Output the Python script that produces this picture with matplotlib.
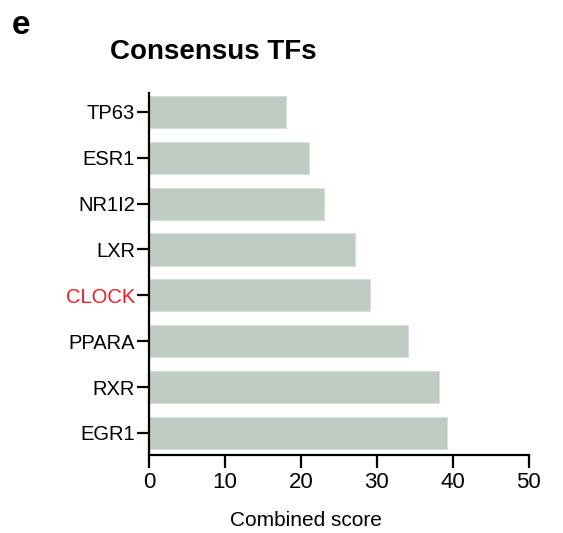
import matplotlib
matplotlib.use("Agg")
import matplotlib.pyplot as plt

categories = ["EGR1", "RXR", "PPARA", "CLOCK", "LXR", "NR1I2", "ESR1", "TP63"]
scores = [39.2, 38.2, 34.1, 29.1, 27.1, 23.1, 21.1, 18.1]
xticks = [0, 10, 20, 30, 40, 50]
highlight = "CLOCK"

plt.rcParams['font.family'] = ['Liberation Sans', 'DejaVu Sans']

W, H = 563, 533
fig = plt.figure(figsize=(W / 100, H / 100), dpi=100)
left, right, top, bottom = 149, 528.6, 93, 455
ax = fig.add_axes([left / W, 1 - bottom / H, (right - left) / W, (bottom - top) / H])

ypos = list(range(len(categories)))
ax.barh(ypos, scores, height=0.7, color="#bfccc4", edgecolor="#d6e0da", linewidth=0.8)
ax.set_xlim(0, 50)
ax.set_ylim(-0.48, len(categories) - 1 + 0.41)
ax.set_yticks(ypos)
ax.set_yticklabels(categories, fontsize=14.5)
ax.set_xticks(xticks)
ax.set_xticklabels([str(t) for t in xticks], fontsize=16)
for lbl in ax.get_yticklabels():
    if lbl.get_text() == highlight:
        lbl.set_color("#e8202a")

for s in ["top", "right"]:
    ax.spines[s].set_visible(False)
for s in ["left", "bottom"]:
    ax.spines[s].set_linewidth(1.6)
ax.tick_params(axis="both", direction="out", length=9, width=1.6)
ax.tick_params(axis="y", pad=1)
ax.tick_params(axis="x", pad=3)

fig.text(213 / W, 1 - 52 / H, "Consensus TFs", fontsize=20, fontweight="bold",
         ha="center", va="center")
fig.text(12 / W, 1 - 25 / H, "e", fontsize=24, fontweight="bold", ha="left", va="center")
fig.text(306 / W, 1 - 520 / H, "Combined score", fontsize=15, ha="center", va="center")

fig.savefig("out.png", dpi=100)
